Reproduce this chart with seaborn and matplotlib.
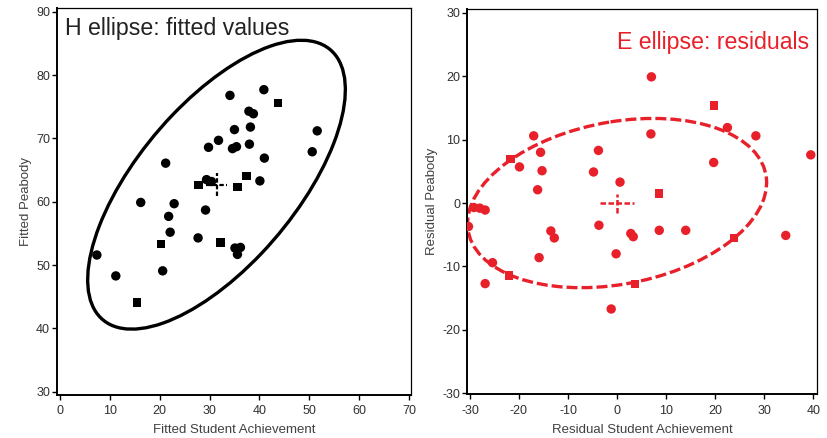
import numpy as np
import pandas as pd
import seaborn as sns
import matplotlib
matplotlib.use("Agg")
import matplotlib.pyplot as plt
from matplotlib.patches import Ellipse

# fitted values (left panel)
fit_x = [7.4, 11.2, 15.4, 16.2, 21.2, 20.3, 20.6, 21.8, 22.1, 22.9, 27.7, 27.8, 29.2,
         29.8, 29.4, 30.4, 31.8, 32.2, 34.1, 35.0, 34.6, 35.4, 35.6, 35.1, 35.6, 36.2,
         37.4, 38.0, 38.2, 37.9, 38.8, 40.1, 40.9, 41.0, 43.7, 50.6, 51.6]
fit_y = [51.6, 48.3, 44.1, 59.9, 66.1, 53.3, 49.1, 57.7, 55.2, 59.7, 54.3, 62.6, 58.7,
         68.6, 63.5, 63.2, 69.7, 53.6, 76.8, 71.4, 68.4, 68.7, 62.3, 52.7, 51.7, 52.8,
         64.1, 69.1, 71.8, 74.3, 73.9, 63.3, 77.7, 66.9, 75.6, 67.9, 71.2]
fit_shape = ["c", "c", "s", "c", "c", "s", "c", "c", "c", "c", "c", "s", "c",
             "c", "c", "c", "c", "s", "c", "c", "c", "c", "s", "c", "c", "c",
             "s", "c", "c", "c", "c", "c", "c", "c", "s", "c", "c"]

# residuals (right panel)
res_x = [7.0, 19.8, 22.5, 28.3, 39.5, 6.9, 19.7, -17.0, -21.7, -19.9, -15.6, -15.3, -16.2,
         -3.8, -4.8, 0.6, 8.6, -3.7, -13.5, -12.8, -15.9, -0.2, 2.8, 3.3, 8.6, 14.0,
         23.8, 34.4, 3.7, -1.2, -26.9, -22.0, -25.4, -29.2, -28.0, -26.9, -30.3]
res_y = [19.9, 15.4, 11.9, 10.6, 7.6, 10.9, 6.4, 10.6, 6.9, 5.7, 8.0, 5.1, 2.1,
         8.3, 4.9, 3.3, 1.5, -3.5, -4.4, -5.5, -8.6, -8.0, -4.8, -5.3, -4.3, -4.3,
         -5.5, -5.1, -12.8, -16.7, -12.7, -11.4, -9.4, -0.7, -0.8, -1.1, -3.7]
res_shape = ["c", "s", "c", "c", "c", "c", "c", "c", "s", "c", "c", "c", "c",
             "c", "c", "c", "s", "c", "c", "c", "c", "c", "c", "c", "c", "c",
             "s", "c", "s", "c", "c", "s", "c", "c", "c", "c", "c"]

# ellipses: centre and 2x2 shape matrix
h_center = (31.4, 62.7)
h_shape = [[668, 388], [388, 520]]
e_center = (0.0, 0.0)
e_shape = [[930, 98], [98, 178]]

fit_xticks = list(range(0, 71, 10))
fit_yticks = list(range(30, 91, 10))
res_xticks = list(range(-30, 41, 10))
res_yticks = list(range(-30, 31, 10))

RED = "#e8202a"

sns.set_style("ticks")
plt.rcParams["font.family"] = ["Liberation Sans", "DejaVu Sans"]
plt.rcParams["axes.unicode_minus"] = False


def add_ellipse(ax, center, shape, **kw):
    vals, vecs = np.linalg.eigh(np.array(shape, float))
    ang = np.degrees(np.arctan2(vecs[1, 1], vecs[0, 1]))
    ax.add_patch(Ellipse(center, 2 * np.sqrt(vals[1]), 2 * np.sqrt(vals[0]),
                         angle=ang, fill=False, **kw))


def add_cross(ax, center, dx, dy, **kw):
    cx, cy = center
    ax.plot([cx - dx, cx + dx], [cy, cy], **kw)
    ax.plot([cx, cx], [cy - dy, cy + dy], **kw)


def style_axes(ax, xticks, yticks, xlim, ylim, xlabel, ylabel):
    ax.set_xlim(xlim)
    ax.set_ylim(ylim)
    ax.set_xticks(xticks)
    ax.set_yticks(yticks)
    ax.set_xlabel(xlabel, fontsize=9.5, color="#404040", labelpad=5)
    ax.set_ylabel(ylabel, fontsize=9.5, color="#404040", labelpad=3)
    ax.tick_params(axis="both", labelsize=9, labelcolor="#303030", length=3.5, width=1,
                   color="black")
    ax.tick_params(axis="x", pad=4)
    ax.tick_params(axis="y", pad=1.5)
    for side in ["left", "bottom"]:
        ax.spines[side].set_linewidth(1.4)
    for side in ["top", "right"]:
        ax.spines[side].set_linewidth(0.9)
        ax.spines[side].set_visible(True)
    for sp in ax.spines.values():
        sp.set_color("black")


fig = plt.figure(figsize=(8.27, 4.38), dpi=100)
ax1 = fig.add_axes([0.0689, 0.0982, 0.428, 0.8836])
ax2 = fig.add_axes([0.565, 0.0998, 0.4225, 0.8797])

df_fit = pd.DataFrame({"x": fit_x, "y": fit_y, "shape": fit_shape})
df_res = pd.DataFrame({"x": res_x, "y": res_y, "shape": res_shape})

markers = {"c": "o", "s": "s"}
sizes = {"c": 46, "s": 36}

sns.scatterplot(data=df_fit, x="x", y="y", style="shape", size="shape", markers=markers,
                sizes=sizes, color="black", linewidth=0, legend=False, ax=ax1, zorder=3)
add_ellipse(ax1, h_center, h_shape, edgecolor="black", linewidth=2.4, zorder=2)
add_cross(ax1, h_center, 2.2, 1.8, color="black", linewidth=1.6, linestyle=(0, (2, 1)))
style_axes(ax1, fit_xticks, fit_yticks, (-0.6, 70.4), (29.5, 90.6),
           "Fitted Student Achievement", "Fitted Peabody")
ax1.text(0.023, 0.948, "H ellipse: fitted values", transform=ax1.transAxes,
         fontsize=16.7, color="#222222", ha="left", va="center")

sns.scatterplot(data=df_res, x="x", y="y", style="shape", size="shape", markers=markers,
                sizes=sizes, color=RED, linewidth=0, legend=False, ax=ax2, zorder=3)
add_ellipse(ax2, e_center, e_shape, edgecolor=RED, linewidth=2.4,
            linestyle=(0, (3.3, 1.2)), zorder=2)
add_cross(ax2, e_center, 3.5, 1.5, color=RED, linewidth=1.8, linestyle=(0, (2.2, 1)))
style_axes(ax2, res_xticks, res_yticks, (-30.55, 40.7), (-30.15, 30.6),
           "Residual Student Achievement", "Residual Peabody")
ax2.text(0.978, 0.912, "E ellipse: residuals", transform=ax2.transAxes,
         fontsize=16.7, color=RED, ha="right", va="center")

fig.savefig("out.png", dpi=100)
